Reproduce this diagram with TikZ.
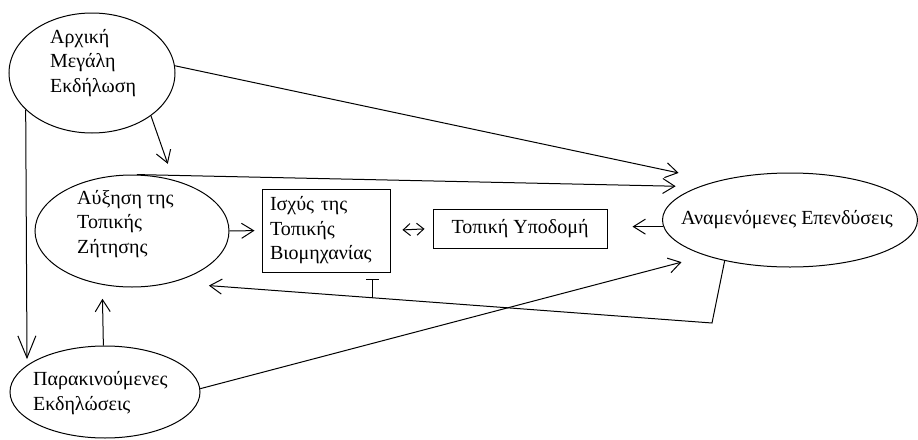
\documentclass[tikz,border=0pt]{standalone}
\usepackage{fontspec}
\setmainfont{Liberation Serif}
\usetikzlibrary{shapes.geometric,arrows.meta,calc}
\begin{document}
\begin{tikzpicture}[x=1pt,y=-1pt,
  every node/.style={font=\fontsize{20}{24.5}\selectfont},
  ell/.style={draw, ellipse, inner sep=0pt, line width=1pt},
  lbl/.style={align=left, inner sep=0pt, anchor=west},
  boxn/.style={draw, rectangle, line width=1pt},
  conn/.style={line width=1pt},
  arr/.style={conn, -{Straight Barb[length=12pt,width=15pt]}},
]
\useasboundingbox (0,0) rectangle (918,439);
% ellipses
\node[ell, minimum width=166pt, minimum height=120pt] (e1) at (92,73) {};
\node[ell, minimum width=194pt, minimum height=112pt] (e2) at (132,231) {};
\node[ell, minimum width=255pt, minimum height=94pt] (e5) at (790,220) {};
\node[ell, minimum width=190pt, minimum height=92pt] (e6) at (105,392) {};
% texts in ellipses
\node[lbl] (t1) at (50,63) {Αρχική\\Μεγάλη\\Εκδήλωση};
\node[lbl] (t2) at (77,224) {Αύξηση της\\Τοπικής\\Ζήτησης};
\node[lbl] (t6) at (33,393) {Παρακινούμενες\\Εκδηλώσεις};
\node[anchor=base, inner sep=0pt] (t5) at (787,224) {Αναμενόμενες Επενδύσεις};
% boxes
\node[boxn, text width=112pt, align=left, inner xsep=8pt, minimum height=83pt] (b1) at (326,230.5) {Ισχύς της\\Τοπικής\\Βιομηχανίας};
\node[boxn, minimum width=174pt, minimum height=39pt, inner sep=0pt] (b2) at (520,228.5) {Τοπική Υποδομή};
% connectors
\draw[arr, shorten >=39pt] (e1.5) -- (e5.152);
\draw[arr, shorten >=23pt] (e2.85) -- (e5.160);
\draw[arr, shorten >=17pt] (e1.-36) -- (e2.51);
\draw[conn, -{Straight Barb[length=22pt,width=18pt]}, shorten >=6pt] (e1.209) -- (e6.161);
\draw[arr, shorten >=14pt] (e6.92) -- (e2.241);
\draw[arr, shorten >=25pt] (e6.2) -- (e5.203);
\coordinate (fk) at (712,323);
\draw[arr, shorten >=38pt] (e5.212) -- (fk) -- (e2.307);
\path (fk) -- (e2.307) coordinate[pos=0.627] (tb);
\draw[conn, -{Bar[width=13pt]}, shorten >=6pt] (tb) -- (tb |- b1.south);
\draw[arr, shorten >=7pt] (e2.east) -- (b1.west);
\draw[conn, {Straight Barb[length=7pt,width=12pt]}-{Straight Barb[length=7pt,width=12pt]}, shorten <=12pt, shorten >=8pt] (b1.east) -- (b2.west);
\draw[arr, shorten >=25pt] (e5.183) -- (e5.183 -| b2.east);
\end{tikzpicture}
\end{document}
